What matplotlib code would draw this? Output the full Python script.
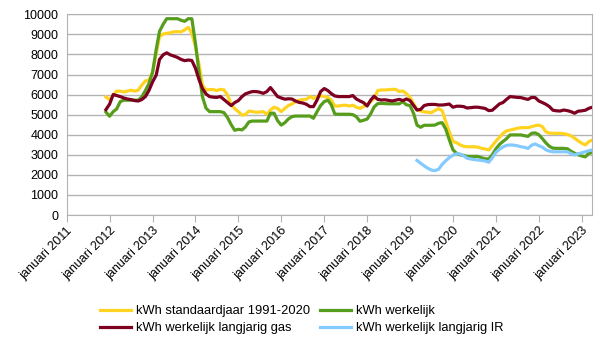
import numpy as np
import matplotlib
matplotlib.use('Agg')
import matplotlib.pyplot as plt
import matplotlib.dates as mdates
import pandas as pd

plt.rcParams['font.family'] = ['Liberation Sans', 'DejaVu Sans']

# monthly values, Dec 2011 .. Apr 2023
standaardjaar = [5880, 5750, 5970, 6170, 6170, 6130, 6170, 6220, 6170, 6220, 6470, 6680, 6720,
                 7130, 8050, 8880, 9020, 9050, 9080, 9130, 9130, 9130, 9220, 9350, 9050,
                 8390, 7480, 6480, 6230, 6250, 6250, 6200, 6260, 6230, 5980, 5500, 5300,
                 5150, 4980, 5000, 5180, 5150, 5120, 5130, 5150, 5020, 5230, 5370, 5310,
                 5150, 5310, 5450, 5530, 5650, 5720, 5750, 5760, 5900, 5810, 5900, 5930,
                 5900, 5850, 5730, 5430, 5430, 5460, 5470, 5430, 5470, 5370, 5310, 5400,
                 5520, 5650, 5810, 6200, 6230, 6230, 6240, 6260, 6260, 6150, 6180, 6050,
                 5850, 5550, 5250, 5180, 5140, 5120, 5100, 5200, 5300, 5200, 4650, 4150,
                 3670, 3600, 3500, 3420, 3400, 3400, 3400, 3380, 3320, 3290, 3240, 3450,
                 3680, 3880, 4060, 4190, 4230, 4270, 4320, 4350, 4350, 4350, 4400, 4450,
                 4480, 4400, 4150, 4080, 4070, 4070, 4070, 4050, 4010, 3950, 3830, 3700,
                 3580, 3490, 3650, 3740]

werkelijk = [5130, 4920, 5150, 5280, 5650, 5720, 5720, 5720, 5720, 5720, 5880, 6200, 6550,
             7100, 8250, 9150, 9500, 9780, 9780, 9780, 9780, 9700, 9650, 9780, 9780,
             8550, 7060, 5900, 5320, 5150, 5150, 5150, 5150, 5100, 4850, 4500, 4220,
             4270, 4240, 4380, 4640, 4680, 4680, 4680, 4680, 4680, 5070, 5070, 4700,
             4480, 4600, 4780, 4900, 4930, 4930, 4930, 4930, 4930, 4820, 5150, 5450,
             5650, 5720, 5500, 5030, 5020, 5020, 5020, 5020, 5000, 4900, 4670, 4720,
             4780, 5050, 5380, 5550, 5560, 5550, 5540, 5540, 5540, 5540, 5640, 5490,
             5450, 5050, 4480, 4370, 4470, 4470, 4470, 4480, 4570, 4600, 4280, 3750,
             3250, 3070, 3000, 2970, 2920, 2920, 2920, 2920, 2850, 2800, 2790, 3000,
             3300, 3520, 3660, 3800, 3990, 3990, 3990, 3990, 3950, 3920, 4070, 4090,
             4000, 3800, 3600, 3420, 3330, 3320, 3320, 3320, 3300, 3180, 3080, 3000,
             2940, 2900, 3070, 3110]

langjarig_gas = [5250, 5520, 6000, 5950, 5900, 5830, 5780, 5750, 5700, 5680, 5750, 5900, 6200,
                 6630, 6970, 7750, 7980, 8080, 7980, 7920, 7850, 7750, 7690, 7720, 7700,
                 7310, 6730, 6310, 6030, 5900, 5870, 5860, 5900, 5750, 5600, 5450, 5600,
                 5700, 5900, 6030, 6100, 6150, 6150, 6120, 6060, 6150, 6350, 6120, 5900,
                 5830, 5770, 5790, 5780, 5680, 5610, 5580, 5520, 5400, 5400, 5730, 6150,
                 6300, 6200, 6050, 5930, 5900, 5900, 5900, 5900, 5950, 5780, 5680, 5600,
                 5430, 5730, 5920, 5760, 5730, 5740, 5710, 5680, 5720, 5760, 5700, 5780,
                 5700, 5450, 5230, 5260, 5450, 5500, 5510, 5510, 5480, 5480, 5500, 5530,
                 5370, 5420, 5420, 5400, 5330, 5350, 5370, 5370, 5340, 5310, 5200, 5220,
                 5380, 5540, 5600, 5760, 5900, 5880, 5860, 5850, 5800, 5760, 5860, 5850,
                 5680, 5600, 5520, 5400, 5220, 5190, 5180, 5230, 5200, 5150, 5070, 5170,
                 5190, 5220, 5310, 5370]

# monthly values, Mar 2019 .. Apr 2023
langjarig_ir = [2720, 2580, 2450, 2330, 2240, 2210, 2280, 2520, 2700, 2860,
                2980, 3050, 3040, 2950, 2830, 2790, 2760, 2740, 2720, 2690, 2630, 2850,
                3120, 3280, 3390, 3470, 3490, 3480, 3450, 3400, 3370, 3320, 3480, 3540,
                3450, 3380, 3250, 3180, 3150, 3150, 3150, 3150, 3150, 3060, 2990, 3050,
                3100, 3150, 3200, 3240]

labels = ['kWh standaardjaar 1991-2020', 'kWh werkelijk',
          'kWh werkelijk langjarig gas', 'kWh werkelijk langjarig IR']
colors = ['#ffd320', '#579d1c', '#7e0021', '#83caff']

dates = pd.date_range('2011-12-01', periods=len(standaardjaar), freq='MS')
dates_ir = pd.date_range('2019-03-01', periods=len(langjarig_ir), freq='MS')
years = list(range(2011, 2024))

fig = plt.figure(figsize=(6.05, 3.41), dpi=100)
ax = fig.add_axes([0.1102, 0.3695, 0.8688, 0.5886])

lw = 2.3
l1, = ax.plot(dates, standaardjaar, color=colors[0], lw=lw, label=labels[0])
l2, = ax.plot(dates, werkelijk, color=colors[1], lw=lw, label=labels[1])
l3, = ax.plot(dates, langjarig_gas, color=colors[2], lw=lw, label=labels[2])
l4, = ax.plot(dates_ir, langjarig_ir, color=colors[3], lw=lw, label=labels[3])

ax.set_ylim(0, 10000)
ax.set_yticks(range(0, 10001, 1000))
ax.set_xlim(pd.Timestamp('2011-01-01'), pd.Timestamp('2023-04-01'))
ticks = [pd.Timestamp(f'{y}-01-01') for y in years]
ax.set_xticks(ticks)
ax.set_xticklabels([f'januari {y}' for y in years], rotation=45, ha='right',
                   va='top', rotation_mode='anchor')

ax.grid(axis='y', color='#b3b3b3', lw=1)
ax.set_axisbelow(True)
for s in ax.spines.values():
    s.set_color('#b3b3b3')
ax.tick_params(axis='y', length=0, pad=6, labelsize=9)
ax.tick_params(axis='x', length=5, color='#b3b3b3', pad=2, labelsize=9)

fig.legend([l1, l3, l2, l4], [labels[0], labels[2], labels[1], labels[3]],
           ncol=2, loc='center', bbox_to_anchor=(0.499, 0.0625), frameon=False,
           fontsize=9.3, handlelength=2.4, handletextpad=0.35, columnspacing=0.8,
           labelspacing=0.4, borderpad=0)

plt.savefig('out.png', dpi=100)
